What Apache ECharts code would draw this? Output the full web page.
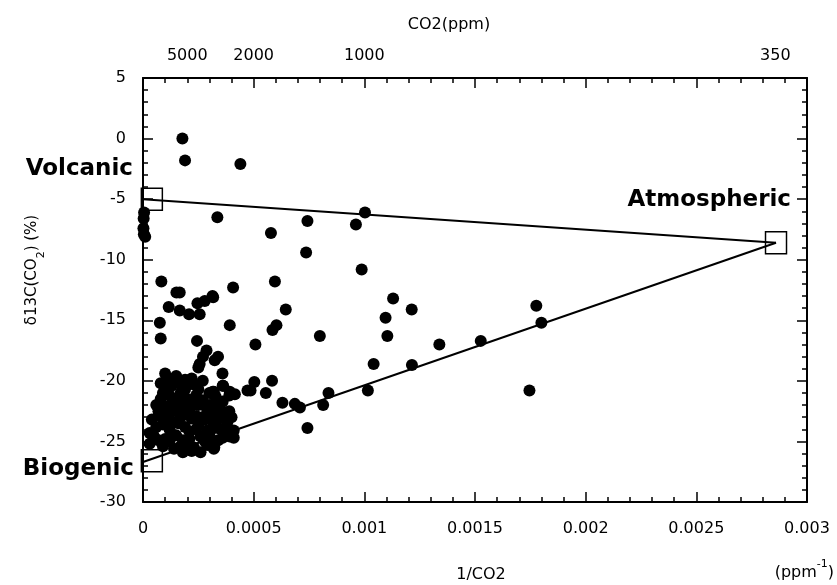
<!DOCTYPE html>
<html><head><meta charset="utf-8">
<script src="https://cdn.jsdelivr.net/npm/echarts@6/dist/echarts.min.js"></script>
<style>html,body{margin:0;padding:0;background:#fff}#c{width:837px;height:585px}</style>
</head><body><div id="c"></div>
<script>
// Sample points: 1/CO2 (ppm^-1) and delta13C values
const scatterX = [
  0.000178, 0.00019, 0.00044,
  0.000005, 0.000003, 0.000002, 0.000004, 0.00001,
  0.000336, 0.000578, 0.000743, 0.000737, 0.001003, 0.000962, 0.000988,
  0.000083, 0.000151, 0.000166, 0.000314, 0.000407, 0.000596,
  0.00113, 0.001214, 0.001096, 0.001104, 0.000799, 0.001339, 0.001526, 0.001777, 0.0018,
  0.001042, 0.001215, 0.001016, 0.000838, 0.000814, 0.001746, 0.000743, 0.000709,
  0.000116, 0.000166, 0.000208, 0.000256, 0.000246, 0.000279, 0.000317, 0.000076, 0.00008,
  0.000392, 0.000645, 0.000603, 0.000585, 0.000508, 0.000244, 0.000287, 0.000271, 0.000256,
  0.00025, 0.000339, 0.000324, 0.000359, 0.000583, 0.000486, 0.00063, 0.000686, 0.000362,
  0.000392, 0.000415, 0.000472, 0.000503, 0.000555,
  0.00003, 0.00003, 0.00005, 0.00006, 0.00008, 0.00008, 0.00008, 0.0001, 0.00011, 0.0001,
  0.00012, 0.00011, 0.0001, 0.00012, 0.0001, 0.00009, 0.00014, 0.00015, 0.00014, 0.00015,
  0.00014, 0.00013, 0.00016, 0.00017, 0.00018, 0.00017, 0.00019, 0.00018, 0.00018, 0.0002,
  0.00021, 0.00022, 0.00021, 0.0002, 0.00019, 0.00023, 0.00024, 0.00025, 0.00024, 0.00025,
  0.00026, 0.00023, 0.00028, 0.00029, 0.00028, 0.00029, 0.00027, 0.0003, 0.00031, 0.00032,
  0.0003, 0.00032, 0.00034, 0.00035, 0.00034, 0.00033, 0.00036, 0.00037, 0.00038, 0.0004,
  0.00041, 0.00041, 0.00039, 0.00036, 0.00032, 0.00022, 0.00027, 0.00015, 0.00006,
  0.000322, 0.000385, 0.000392, 0.000328, 0.000315,
  0.00007, 0.00009, 0.00012, 0.00013, 0.00016, 0.00019, 0.00021, 0.00024, 0.00026, 0.00029,
  0.00031, 0.00033, 0.00035, 0.00037, 0.00039,
  0.00009, 0.00011, 0.00013, 0.00016, 0.00018, 0.0002, 0.00022, 0.00025, 0.00027, 0.0003,
  0.00033, 0.00036, 0.00012, 0.00017, 0.00022, 0.00026, 0.00031, 0.00004, 0.00007, 0.00019
];
const scatterY = [
  0.0, -1.8, -2.1,
  -6.1, -6.6, -7.4, -7.9, -8.1,
  -6.5, -7.8, -6.8, -9.4, -6.1, -7.1, -10.8,
  -11.8, -12.7, -12.7, -13.0, -12.3, -11.8,
  -13.2, -14.1, -14.8, -16.3, -16.3, -17.0, -16.7, -13.8, -15.2,
  -18.6, -18.7, -20.8, -21.0, -22.0, -20.8, -23.9, -22.2,
  -13.9, -14.2, -14.5, -14.5, -13.6, -13.4, -13.1, -15.2, -16.5,
  -15.4, -14.1, -15.4, -15.8, -17.0, -16.7, -17.5, -18.0, -18.6,
  -18.9, -18.0, -18.3, -19.4, -20.0, -20.8, -21.8, -21.9, -20.4,
  -20.9, -21.1, -20.8, -20.1, -21.0,
  -24.3, -25.2, -24.6, -23.8, -22.9, -21.5, -20.2, -19.4, -19.8, -20.6,
  -21.2, -22.1, -23.2, -24.0, -24.8, -25.4, -25.6, -24.5, -23.4, -22.4,
  -21.6, -20.4, -20.1, -21.0, -22.0, -23.0, -23.8, -24.9, -25.9, -25.2,
  -24.2, -23.1, -22.3, -21.5, -20.7, -20.3, -21.2, -22.0, -22.9, -23.7,
  -24.6, -25.5, -25.0, -24.1, -23.2, -22.4, -21.6, -21.0, -22.8, -23.6,
  -24.5, -25.6, -24.9, -24.0, -23.1, -22.2, -21.7, -22.6, -23.5, -23.0,
  -24.1, -24.7, -21.2, -20.4, -20.9, -19.8, -20.0, -19.6, -22.0,
  -25.5, -23.0, -24.6, -21.3, -20.9,
  -22.5, -23.6, -22.7, -24.4, -23.5, -22.6, -24.8, -24.0, -23.3, -25.3,
  -24.0, -23.8, -22.8, -24.2, -22.5,
  -21.0, -20.9, -19.9, -21.8, -20.6, -22.7, -21.6, -20.7, -23.0, -22.0,
  -21.5, -24.7, -25.0, -25.4, -25.8, -25.9, -25.0, -23.2, -24.9, -19.9
];
// End members (open squares): Volcanic, Biogenic, Atmospheric
const endNames = ['Volcanic', 'Biogenic', 'Atmospheric'];
const endX = [0.00004, 0.00004, 0.00286];
const endY = [-5.0, -26.6, -8.6];
// Mixing lines
const volcanicLineX = [0, 0.00286];
const volcanicLineY = [-5.0, -8.6];
const biogenicLineX = [0, 0.00286];
const biogenicLineY = [-26.7, -8.6];
// Top axis CO2 (ppm) labels
const topPpm = [5000, 2000, 1000, 350];

const FONT = '"DejaVu Sans", sans-serif';
const zip = (xs, ys) => xs.map((x, i) => [x, ys[i]]);

const tickStyle = {show: true, inside: true, length: 10, lineStyle: {color: '#000', width: 1.5}};
const minorStyle = {show: true, splitNumber: 5, length: 5, lineStyle: {color: '#000', width: 1.5}};
const lineStyleAx = {show: true, onZero: false, lineStyle: {color: '#000', width: 2}};
const labelBase = {color: '#000', fontFamily: FONT, fontSize: 16};

const chart = echarts.init(document.getElementById('c'), null, {renderer: 'canvas'});
chart.setOption({
  backgroundColor: '#fff',
  animation: false,
  grid: {left: 143, right: 30, top: 78, bottom: 83, containLabel: false},
  xAxis: [{
    type: 'value', position: 'bottom', min: 0, max: 0.003, interval: 0.0005,
    axisLine: lineStyleAx, axisTick: tickStyle, minorTick: minorStyle,
    splitLine: {show: false}, minorSplitLine: {show: false},
    axisLabel: Object.assign({}, labelBase, {margin: 19, formatter: v => String(+v.toFixed(4))})
  }, {
    type: 'value', position: 'top', min: 0, max: 0.003, interval: 0.0005,
    axisLine: lineStyleAx, axisTick: tickStyle, minorTick: minorStyle,
    splitLine: {show: false}, minorSplitLine: {show: false},
    axisLabel: Object.assign({}, labelBase, {
      margin: 14,
      customValues: topPpm.map(p => 1 / p),
      formatter: v => String(Math.round(1 / v))
    })
  }],
  yAxis: [{
    type: 'value', position: 'left', min: -30, max: 5, interval: 5,
    axisLine: lineStyleAx, axisTick: tickStyle, minorTick: minorStyle,
    splitLine: {show: false}, minorSplitLine: {show: false},
    axisLabel: Object.assign({}, labelBase, {margin: 17})
  }, {
    type: 'value', position: 'right', min: -30, max: 5, interval: 5,
    axisLine: lineStyleAx, axisTick: tickStyle, minorTick: minorStyle,
    splitLine: {show: false}, minorSplitLine: {show: false},
    axisLabel: {show: false}
  }],
  series: [{
    type: 'line', data: zip(volcanicLineX, volcanicLineY), symbol: 'none',
    lineStyle: {color: '#000', width: 2}, z: 3
  }, {
    type: 'line', data: zip(biogenicLineX, biogenicLineY), symbol: 'none',
    lineStyle: {color: '#000', width: 2}, z: 3
  }, {
    type: 'scatter', data: zip(scatterX, scatterY), symbol: 'circle', symbolSize: 12,
    itemStyle: {color: '#000', opacity: 1}, z: 4
  }, {
    type: 'scatter', data: zip(endX, endY), symbol: 'rect', symbolSize: [21, 22],
    itemStyle: {color: 'rgba(0,0,0,0)', borderColor: '#000', borderWidth: 1.5, opacity: 1}, z: 5
  }],
  graphic: [
    {type: 'text', x: 133, y: 169, style: {text: endNames[0], align: 'right', verticalAlign: 'middle', fill: '#000', font: 'bold 23px ' + FONT}},
    {type: 'text', x: 134, y: 469, style: {text: endNames[1], align: 'right', verticalAlign: 'middle', fill: '#000', font: 'bold 23px ' + FONT}},
    {type: 'text', x: 791, y: 200, style: {text: endNames[2], align: 'right', verticalAlign: 'middle', fill: '#000', font: 'bold 23px ' + FONT}},
    {type: 'text', x: 449, y: 25, style: {text: 'CO2(ppm)', align: 'center', verticalAlign: 'middle', fill: '#000', font: '16px ' + FONT}},
    {type: 'text', x: 481, y: 575, style: {text: '1/CO2', align: 'center', verticalAlign: 'middle', fill: '#000', font: '16px ' + FONT}},
    {type: 'text', x: 834, y: 570, style: {
      text: '{a|(ppm}{s|-1}{a|)}', align: 'right', verticalAlign: 'middle',
      rich: {a: {fontSize: 16, fontFamily: FONT, fill: '#000', lineHeight: 22, verticalAlign: 'bottom'},
             s: {fontSize: 11, fontFamily: FONT, fill: '#000', lineHeight: 22, verticalAlign: 'top'}}
    }},
    {type: 'text', x: 36, y: 270, rotation: Math.PI / 2, style: {
      text: '{a|δ13C(CO}{s|2}{a|) (%)}', align: 'center', verticalAlign: 'middle',
      rich: {a: {fontSize: 15, fontFamily: FONT, fill: '#000', lineHeight: 22, verticalAlign: 'top'},
             s: {fontSize: 11, fontFamily: FONT, fill: '#000', lineHeight: 22, verticalAlign: 'bottom'}}
    }}
  ]
});
</script></body></html>
